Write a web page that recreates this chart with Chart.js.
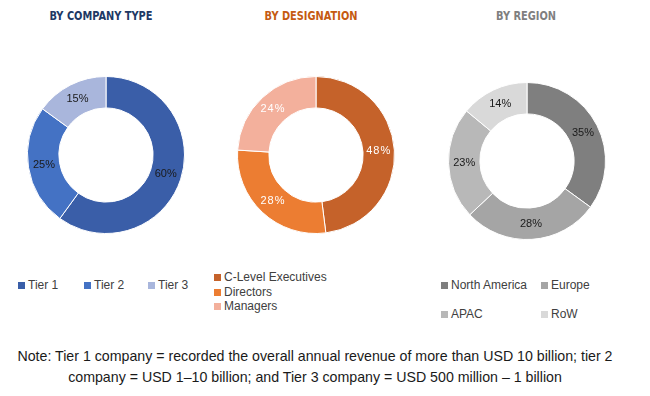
<!DOCTYPE html>
<html>
<head>
<meta charset="utf-8">
<script src="https://cdn.jsdelivr.net/npm/chart.js@4/dist/chart.umd.min.js"></script>
<style>
  body { margin: 0; width: 650px; height: 396px; background: #fff; position: relative; overflow: hidden; font-family: "Liberation Sans", Arial, sans-serif; }
  .title { position: absolute; top: 8px; width: 200px; text-align: center; font-family: "DejaVu Sans Condensed", "Liberation Sans Narrow", sans-serif; font-weight: bold; font-size: 13px; transform: scaleX(0.84); }
  canvas { position: absolute; }
  .legend { position: absolute; list-style: none; margin: 0; padding: 0; font-size: 12px; color: #404040; }
  .legend li { position: absolute; white-space: nowrap; line-height: 14px; }
  .legend span { display: inline-block; width: 7px; height: 7px; margin-right: 3px; vertical-align: 0px; }
  .note { position: absolute; left: 0; top: 346px; width: 630px; text-align: center; font-size: 14.2px; line-height: 21px; color: #1a1a1a; }
</style>
</head>
<body>
<div class="title" style="left:1px;color:#203864">BY COMPANY TYPE</div>
<div class="title" style="left:211px;color:#c55a11">BY DESIGNATION</div>
<div class="title" style="left:426px;color:#7f7f7f">BY REGION</div>

<canvas id="chartCompany" width="158" height="158" style="left:27px;top:76px"></canvas>
<canvas id="chartDesignation" width="158" height="158" style="left:237px;top:76px"></canvas>
<canvas id="chartRegion" width="158" height="158" style="left:448px;top:82px"></canvas>

<ul class="legend" id="legendCompany"></ul>
<ul class="legend" id="legendDesignation"></ul>
<ul class="legend" id="legendRegion"></ul>

<div class="note">Note: Tier 1 company = recorded the overall annual revenue of more than USD 10 billion; tier 2<br>company = USD 1–10 billion; and Tier 3 company = USD 500 million – 1 billion</div>

<script>
// データ
const companyLabels = ["Tier 1", "Tier 2", "Tier 3"];
const companyValues = [60, 25, 15];
const companyColors = ["#3a5ea8", "#4472c4", "#a9b6dc"];

const designationLabels = ["C-Level Executives", "Directors", "Managers"];
const designationValues = [48, 28, 24];
const designationColors = ["#c5622a", "#ec7d32", "#f3b09c"];

const regionLabels = ["North America", "Europe", "APAC", "RoW"];
const regionValues = [35, 28, 23, 14];
const regionColors = ["#7f7f7f", "#a5a5a5", "#b8b8b8", "#d9d9d9"];

// スライスの上に % を描く
const sliceLabels = {
  id: "sliceLabels",
  afterDatasetsDraw(chart, args, opts) {
    const ctx = chart.ctx;
    const meta = chart.getDatasetMeta(0);
    const values = chart.data.datasets[0].data;
    ctx.save();
    ctx.font = "11px 'Liberation Sans', Arial, sans-serif";
    ctx.fillStyle = opts.color;
    ctx.letterSpacing = opts.spacing || "0px";
    ctx.textAlign = "center";
    ctx.textBaseline = "middle";
    meta.data.forEach((arc, i) => {
      const p = arc.tooltipPosition();
      ctx.fillText(values[i] + "%", p.x, p.y);
    });
    ctx.restore();
  },
};

function makeDonut(id, labels, values, colors, labelColor, spacing) {
  const ctx = document.getElementById(id).getContext("2d");
  return new Chart(ctx, {
    type: "doughnut",
    data: {
      labels: labels,
      datasets: [{
        data: values,
        backgroundColor: colors,
        borderColor: "#ffffff",
        borderWidth: 1,
        hoverOffset: 0,
      }],
    },
    options: {
      responsive: false,
      animation: false,
      cutout: "60%",
      plugins: {
        legend: { display: false },
        tooltip: { enabled: false },
        sliceLabels: { color: labelColor, spacing: spacing },
      },
    },
    plugins: [sliceLabels],
  });
}

makeDonut("chartCompany", companyLabels, companyValues, companyColors, "#1a1a1a");
makeDonut("chartDesignation", designationLabels, designationValues, designationColors, "#ffffff", "1px");
makeDonut("chartRegion", regionLabels, regionValues, regionColors, "#1a1a1a");

// 凡例 (HTML)
function makeLegend(id, labels, colors, positions) {
  const ul = document.getElementById(id);
  for (let i = 0; i < labels.length; i++) {
    const li = document.createElement("li");
    li.style.left = positions[i][0] + "px";
    li.style.top = positions[i][1] + "px";
    li.innerHTML = `<span style="background-color:${colors[i]}"></span>${labels[i]}`;
    ul.appendChild(li);
  }
}

makeLegend("legendCompany", companyLabels, companyColors, [[18, 278], [84, 278], [148, 278]]);
makeLegend("legendDesignation", designationLabels, designationColors, [[214, 270], [214, 285], [214, 299]]);
makeLegend("legendRegion", regionLabels, regionColors, [[441, 278], [541, 278], [441, 307], [541, 307]]);
</script>
</body>
</html>
